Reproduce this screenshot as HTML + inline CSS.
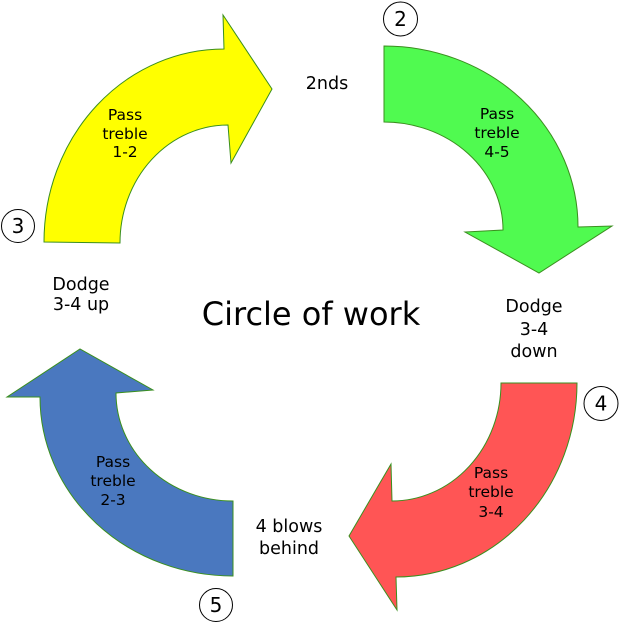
<!DOCTYPE html>
<html>
<head>
<meta charset="utf-8">
<style>
html,body{margin:0;padding:0;background:#fff;}
svg{display:block;}
text{font-family:"DejaVu Sans","Liberation Sans",sans-serif;fill:#000;}
</style>
</head>
<body>
<svg width="619" height="622" viewBox="0 0 619 622" xmlns="http://www.w3.org/2000/svg">
  <!-- Yellow arrow -->
  <path d="M44,242 A180,193 0 0 1 224,49 L223,15 L272,89 L231,163 L228,125 A108,118 0 0 0 120,243 Z"
        fill="#ffff00" stroke="#3a8f1e" stroke-width="1"/>
  <!-- Green arrow -->
  <path d="M384,46 A194,181 0 0 1 578,227 L612,226 L539,273 L465,232 L503,230 A119,108 0 0 0 384,122 Z"
        fill="#50fa50" stroke="#3a8f1e" stroke-width="1"/>
  <!-- Red arrow -->
  <path d="M577,383 A181,194 0 0 1 396,577 L397,610 L349,536 L391,464 L392,501 A109,118 0 0 0 501,383 Z"
        fill="#ff5555" stroke="#3a8f1e" stroke-width="1"/>
  <!-- Blue arrow -->
  <path d="M233,576 A193,179 0 0 1 40,397 L7,397 L80,349 L153,390 L116,393 A117,108 0 0 0 233,501 Z"
        fill="#4a78bf" stroke="#3a8f1e" stroke-width="1"/>

  <!-- Arrow labels -->
  <g font-size="15.5" text-anchor="middle">
    <text x="125" y="120">Pass</text>
    <text x="125" y="139">treble</text>
    <text x="125" y="157">1-2</text>

    <text x="497" y="119">Pass</text>
    <text x="497" y="138">treble</text>
    <text x="497" y="157">4-5</text>

    <text x="491" y="478">Pass</text>
    <text x="491" y="497">treble</text>
    <text x="491" y="517">3-4</text>

    <text x="113" y="467">Pass</text>
    <text x="113" y="486">treble</text>
    <text x="113" y="505">2-3</text>
  </g>

  <!-- Other labels -->
  <g font-size="17.5" text-anchor="middle">
    <text x="327" y="89">2nds</text>
    <text x="81" y="290">Dodge</text>
    <text x="81" y="310">3-4 up</text>
    <text x="534" y="312">Dodge</text>
    <text x="534" y="335">3-4</text>
    <text x="534" y="357">down</text>
    <text x="289" y="532">4 blows</text>
    <text x="289" y="554">behind</text>
  </g>

  <text x="311" y="325" font-size="32" text-anchor="middle">Circle of work</text>

  <!-- Circled numbers -->
  <g fill="none" stroke="#000" stroke-width="1">
    <circle cx="400.5" cy="19" r="17"/>
    <circle cx="18" cy="226" r="16.5"/>
    <circle cx="601" cy="403.5" r="17"/>
    <circle cx="216" cy="605" r="16.5"/>
  </g>
  <g font-size="20" text-anchor="middle">
    <text x="400.5" y="26">2</text>
    <text x="18" y="233">3</text>
    <text x="601" y="410.5">4</text>
    <text x="216" y="612">5</text>
  </g>
</svg>
</body>
</html>
